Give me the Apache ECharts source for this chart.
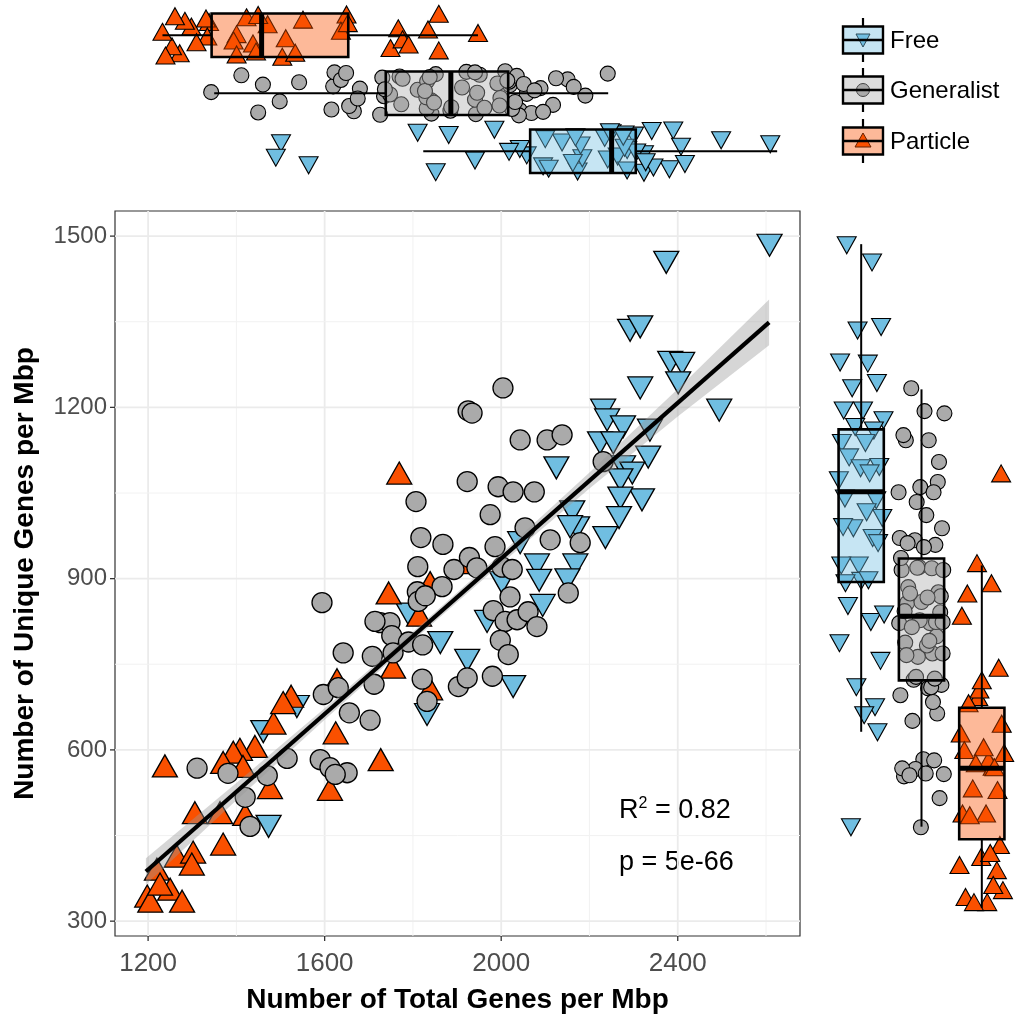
<!DOCTYPE html>
<html>
<head>
<meta charset="utf-8">
<script src="https://cdn.jsdelivr.net/npm/echarts@6/dist/echarts.min.js"></script>
<style>
  html, body { margin: 0; padding: 0; background: #ffffff; }
  #chart { width: 1018px; height: 1019px; }
</style>
</head>
<body>
<div id="chart"></div>
<script>
// ---- data: [total genes per Mbp, unique genes per Mbp] per lifestyle ----
const groupNames = ['Free', 'Generalist', 'Particle'];

const freePts = [
  [2608,1484],[2374,1454],[2292,1335],[2315,1341],[2383,1279],[2410,1277],[2401,1243],[2315,1234],[2494,1195],[2231,1195],
  [2240,1178],[2276,1166],[2337,1160],[2224,1138],[2254,1138],[2333,1113],[2276,1096],[2125,1094],[2297,1085],[2270,1073],
  [2319,1038],[2270,1041],[2161,1017],[2267,1007],[2172,989],[2236,972],[2081,924],[2168,924],[2043,963],[2086,897],
  [2094,853],[1968,825],[1923,757],[2027,711],[1862,788],[1537,676],[1473,466],[1832,662],[1790,838],[2002,893],
  [2150,898],[2156,991],[1461,632]
];

const generalistPts = [
  [1594,858],[1642,770],[1708,764],[1712,715],[1597,697],[1631,709],[1656,665],[1703,652],[1515,585],[1470,555],
  [1381,559],[1311,568],[1590,583],[1612,569],[1651,560],[1624,557],[1420,517],[1431,466],[1726,823],[1748,823],
  [1752,800],[1790,789],[1822,784],[1755,770],[1821,724],[1832,685],[1811,921],[1893,916],[1810,877],[1812,860],
  [1866,886],[1903,711],[1828,870],[1807,1035],[1818,972],[1868,960],[2004,1234],[1925,1194],[1934,1190],[2043,1143],
  [2104,1143],[2138,1152],[1923,1070],[1993,1061],[2027,1052],[2075,1052],[1975,1012],[2054,989],[2111,968],[2179,963],
  [2231,1105],[1986,956],[1928,937],[1945,919],[2002,920],[2025,916],[2152,875],[2020,868],[1982,844],[2009,825],
  [2036,828],[2061,842],[2081,816],[1998,792],[2016,767],[1923,726],[1980,729],[1714,825]
];

const particlePts = [
  [1745,875],[1238,572],[1524,694],[1484,647],[1625,630],[1727,583],[1612,531],[1476,534],[1442,606],[1408,601],
  [1393,596],[1370,578],[1415,571],[1306,490],[1363,490],[1420,487],[1370,435],[1265,414],[1302,421],[1299,400],
  [1220,391],[1198,344],[1205,335],[1250,356],[1277,335],[1227,365],[1839,707],[1814,836],[1755,745],[1628,723],
  [1506,683],[1839,893],[1769,1085],[1930,928]
];

// box summaries [min, Q1, median, Q3, max] of total genes (top) and unique genes (right)
const freeBoxTotal       = [1803, 2051, 2240, 2296, 2624];
const generalistBoxTotal = [1318, 1716, 1867, 2000, 2232];
const particleBoxTotal   = [1198, 1312, 1428, 1629, 1930];
const freeBoxUnique       = [633, 895, 1053, 1162, 1486];
const generalistBoxUnique = [467, 723, 835, 936, 1232];
const particleBoxUnique   = [325, 445, 569, 675, 924];

// linear fit and its confidence band
const fitX = [1195, 2607];
const fitY = [387, 1349];
const bandX    = [1195, 1400, 1600, 1800, 2000, 2200, 2400, 2607];
const bandLow  = [364, 512, 653, 791, 926, 1058, 1184, 1309];
const bandHigh = [410, 542, 673, 807, 944, 1086, 1232, 1389];

const fitR2 = '0.82';
const fitP = '5e-66';

// axis ticks
const xTicks = [1200, 1600, 2000, 2400];
const xMinorTicks = [1400, 1800, 2200, 2600];
const yTicks = [300, 600, 900, 1200, 1500];
const yMinorTicks = [450, 750, 1050, 1350];

// jitter offsets (fraction of a category band) for the marginal strips
const jitterA = [0.12,-0.31,0.27,-0.05,0.36,-0.22,0.08,-0.37,0.19,-0.14,
  0.31,0.02,-0.28,0.23,-0.09,0.35,-0.33,0.15,-0.02,0.29,
  -0.19,0.06,-0.35,0.25,-0.12,0.33,-0.26,0.1,-0.07,0.21,
  -0.3,0.37,-0.16,0.04,0.28,-0.24,0.14,-0.36,0.32,-0.01,
  -0.2,0.24,-0.11,0.38,-0.29,0.09,0.17,-0.34,0.26,-0.04,
  0.34,-0.18,0.01,-0.25,0.2,-0.38,0.11,0.3,-0.08,-0.27,
  0.16,0.05,-0.32,0.22,-0.15,0.36,-0.21,0.07];
const jitterB = [-0.24,0.18,-0.06,0.33,-0.35,0.11,0.26,-0.15,0.03,-0.29,
  0.37,-0.1,0.21,-0.32,0.07,-0.2,0.3,-0.01,0.14,-0.37,
  0.25,-0.27,0.09,0.35,-0.13,0.19,-0.04,-0.33,0.28,0.0,
  -0.22,0.16,0.32,-0.08,-0.36,0.23,-0.17,0.05,0.38,-0.26,
  0.12,-0.3,0.27,-0.02,0.2,-0.38,0.08,0.34,-0.11,-0.23,
  0.29,0.04,-0.34,0.17,-0.07,0.36,-0.19,0.1,-0.28,0.24,
  -0.03,0.31,-0.16,0.13,-0.25,0.22,-0.09,0.35];

// ---- styling ----
const FONT = '"Liberation Sans", Arial, Helvetica, sans-serif';
const freeColor = '#70BEE1';
const generalistColor = '#AAAAAA';
const particleColor = '#FA5000';
const boxFills = ['rgba(112,190,225,0.4)', 'rgba(170,170,170,0.4)', 'rgba(250,80,0,0.4)'];

const xRange = [1125, 2677];
const yRange = [274, 1544];

const chart = echarts.init(document.getElementById('chart'), null, { renderer: 'canvas' });

function hiddenAxis(extra) {
  return Object.assign({
    type: 'value',
    axisLine: { show: false }, axisTick: { show: false },
    axisLabel: { show: false }, splitLine: { show: false }
  }, extra);
}

// box + whiskers, horizontal (top strip)
function boxTop(params, api) {
  const pos = api.value(0);
  const pMin = api.coord([api.value(1), pos]);
  const pQ1 = api.coord([api.value(2), pos]);
  const pMed = api.coord([api.value(3), pos]);
  const pQ3 = api.coord([api.value(4), pos]);
  const pMax = api.coord([api.value(5), pos]);
  const half = api.size([0, 0.75])[1] / 2;
  const y = pMed[1];
  return {
    type: 'group',
    children: [
      { type: 'line', shape: { x1: pMin[0], y1: y, x2: pQ1[0], y2: y }, style: { stroke: '#000', lineWidth: 2 } },
      { type: 'line', shape: { x1: pQ3[0], y1: y, x2: pMax[0], y2: y }, style: { stroke: '#000', lineWidth: 2 } },
      { type: 'rect', shape: { x: pQ1[0], y: y - half, width: pQ3[0] - pQ1[0], height: 2 * half },
        style: { fill: boxFills[params.dataIndex], stroke: '#000', lineWidth: 2.6 } },
      { type: 'line', shape: { x1: pMed[0], y1: y - half, x2: pMed[0], y2: y + half }, style: { stroke: '#000', lineWidth: 5 } }
    ]
  };
}

// box + whiskers, vertical (right strip)
function boxRight(params, api) {
  const pos = api.value(0);
  const pMin = api.coord([pos, api.value(1)]);
  const pQ1 = api.coord([pos, api.value(2)]);
  const pMed = api.coord([pos, api.value(3)]);
  const pQ3 = api.coord([pos, api.value(4)]);
  const pMax = api.coord([pos, api.value(5)]);
  const half = api.size([0.75, 0])[0] / 2;
  const x = pMed[0];
  return {
    type: 'group',
    children: [
      { type: 'line', shape: { x1: x, y1: pMin[1], x2: x, y2: pQ1[1] }, style: { stroke: '#000', lineWidth: 2 } },
      { type: 'line', shape: { x1: x, y1: pQ3[1], x2: x, y2: pMax[1] }, style: { stroke: '#000', lineWidth: 2 } },
      { type: 'rect', shape: { x: x - half, y: pQ3[1], width: 2 * half, height: pQ1[1] - pQ3[1] },
        style: { fill: boxFills[params.dataIndex], stroke: '#000', lineWidth: 2.6 } },
      { type: 'line', shape: { x1: x - half, y1: pMed[1], x2: x + half, y2: pMed[1] }, style: { stroke: '#000', lineWidth: 5 } }
    ]
  };
}

function bandItem(params, api) {
  const pts = [];
  for (let i = 0; i < bandX.length; i++) pts.push(api.coord([bandX[i], bandHigh[i]]));
  for (let i = bandX.length - 1; i >= 0; i--) pts.push(api.coord([bandX[i], bandLow[i]]));
  return { type: 'polygon', shape: { points: pts }, style: { fill: 'rgba(153,153,153,0.4)' } };
}

// panel grid lines: [value, isMajor]
function vGridItem(params, api) {
  const v = api.value(0), major = api.value(1) === 1;
  const a = api.coord([v, yRange[0]]), b = api.coord([v, yRange[1]]);
  return { type: 'line', shape: { x1: a[0], y1: a[1], x2: b[0], y2: b[1] },
    style: { stroke: major ? '#EBEBEB' : '#F2F2F2', lineWidth: major ? 1.8 : 1 } };
}
function hGridItem(params, api) {
  const v = api.value(0), major = api.value(1) === 1;
  const a = api.coord([xRange[0], v]), b = api.coord([xRange[1], v]);
  return { type: 'line', shape: { x1: a[0], y1: a[1], x2: b[0], y2: b[1] },
    style: { stroke: major ? '#EBEBEB' : '#F2F2F2', lineWidth: major ? 1.8 : 1 } };
}
// outward tick marks on the panel edges
function xTickItem(params, api) {
  const a = api.coord([api.value(0), yRange[0]]);
  return { type: 'line', shape: { x1: a[0], y1: a[1], x2: a[0], y2: a[1] + 5 }, style: { stroke: '#333333', lineWidth: 1.3 } };
}
function yTickItem(params, api) {
  const a = api.coord([xRange[0], api.value(0)]);
  return { type: 'line', shape: { x1: a[0] - 5, y1: a[1], x2: a[0], y2: a[1] }, style: { stroke: '#333333', lineWidth: 1.3 } };
}

const groupSets = [
  { pts: freePts, color: freeColor, symbol: 'triangle', rotate: 180 },
  { pts: generalistPts, color: generalistColor, symbol: 'circle', rotate: 0 },
  { pts: particlePts, color: particleColor, symbol: 'triangle', rotate: 0 }
];

const series = [];

series.push({
  type: 'custom', xAxisIndex: 0, yAxisIndex: 0, z: 0, silent: true,
  encode: { x: 0 },
  data: xMinorTicks.map(function (v) { return [v, 0]; }).concat(xTicks.map(function (v) { return [v, 1]; })),
  renderItem: vGridItem
});
series.push({
  type: 'custom', xAxisIndex: 0, yAxisIndex: 0, z: 0, silent: true,
  encode: { y: 0 },
  data: yMinorTicks.map(function (v) { return [v, 0]; }).concat(yTicks.map(function (v) { return [v, 1]; })),
  renderItem: hGridItem
});
series.push({
  type: 'custom', xAxisIndex: 0, yAxisIndex: 0, z: 6, silent: true, clip: false,
  encode: { x: 0 }, data: xTicks.map(function (v) { return [v]; }), renderItem: xTickItem
});
series.push({
  type: 'custom', xAxisIndex: 0, yAxisIndex: 0, z: 6, silent: true, clip: false,
  encode: { y: 0 }, data: yTicks.map(function (v) { return [v]; }), renderItem: yTickItem
});

// main scatter
[0, 2, 1].forEach(function (g) {
  const s = groupSets[g];
  series.push({
    type: 'scatter', name: groupNames[g], xAxisIndex: 0, yAxisIndex: 0,
    data: s.pts, symbol: s.symbol, symbolRotate: s.rotate,
    symbolSize: s.symbol === 'circle' ? 20 : [25, 22],
    itemStyle: { color: s.color, borderColor: '#000', borderWidth: 1.3, opacity: 1 },
    z: 2, silent: true
  });
});

series.push({
  type: 'custom', xAxisIndex: 0, yAxisIndex: 0,
  data: [[bandX[0], bandLow[0]]], renderItem: bandItem, z: 3, silent: true
});
series.push({
  type: 'line', xAxisIndex: 0, yAxisIndex: 0,
  data: [[fitX[0], fitY[0]], [fitX[1], fitY[1]]],
  showSymbol: false, symbol: 'none',
  lineStyle: { color: '#000', width: 4.2 }, z: 4, silent: true
});

// marginal strips
[0, 2, 1].forEach(function (g) {
  const s = groupSets[g];
  const mSize = s.symbol === 'circle' ? 15 : [19, 17];
  series.push({
    type: 'scatter', xAxisIndex: 1, yAxisIndex: 1,
    data: s.pts.map(function (p, i) { return [p[0], g + 1 + jitterA[i]]; }),
    symbol: s.symbol, symbolRotate: s.rotate, symbolSize: mSize,
    itemStyle: { color: s.color, borderColor: '#000', borderWidth: 1.1, opacity: 1 },
    z: 2, silent: true
  });
  series.push({
    type: 'scatter', xAxisIndex: 2, yAxisIndex: 2,
    data: s.pts.map(function (p, i) { return [g + 1 + jitterB[i], p[1]]; }),
    symbol: s.symbol, symbolRotate: s.rotate, symbolSize: mSize,
    itemStyle: { color: s.color, borderColor: '#000', borderWidth: 1.1, opacity: 1 },
    z: 2, silent: true
  });
});

series.push({
  type: 'custom', xAxisIndex: 1, yAxisIndex: 1,
  encode: { x: [1, 2, 3, 4, 5], y: 0 },
  data: [[1].concat(freeBoxTotal), [2].concat(generalistBoxTotal), [3].concat(particleBoxTotal)],
  renderItem: boxTop, z: 5, silent: true
});
series.push({
  type: 'custom', xAxisIndex: 2, yAxisIndex: 2,
  encode: { x: 0, y: [1, 2, 3, 4, 5] },
  data: [[1].concat(freeBoxUnique), [2].concat(generalistBoxUnique), [3].concat(particleBoxUnique)],
  renderItem: boxRight, z: 5, silent: true
});

// legend keys drawn as small box glyphs
const legendY = [40, 90, 141];
const legendEls = [];
legendY.forEach(function (c, g) {
  const kx = 863;
  legendEls.push({ type: 'line', shape: { x1: kx, y1: c - 22, x2: kx, y2: c - 13 }, style: { stroke: '#000', lineWidth: 2.2 } });
  legendEls.push({ type: 'line', shape: { x1: kx, y1: c + 13, x2: kx, y2: c + 22 }, style: { stroke: '#000', lineWidth: 2.2 } });
  if (g === 0) {
    legendEls.push({ type: 'polygon', shape: { points: [[856, c - 6], [870, c - 6], [863, c + 7]] }, style: { fill: freeColor, stroke: '#000', lineWidth: 1 } });
  } else if (g === 1) {
    legendEls.push({ type: 'circle', shape: { cx: kx, cy: c, r: 6.5 }, style: { fill: generalistColor, stroke: '#000', lineWidth: 1 } });
  } else {
    legendEls.push({ type: 'polygon', shape: { points: [[855, c + 6], [871, c + 6], [863, c - 8]] }, style: { fill: particleColor, stroke: '#000', lineWidth: 1 } });
  }
  legendEls.push({ type: 'rect', shape: { x: 843, y: c - 13.5, width: 40, height: 27 }, style: { fill: boxFills[g], stroke: '#000', lineWidth: 2.4 } });
  legendEls.push({ type: 'line', shape: { x1: 843, y1: c, x2: 883, y2: c }, style: { stroke: '#000', lineWidth: 2.4 } });
  legendEls.push({ type: 'text', x: 890, y: c + 1, style: { text: groupNames[g], font: '24px ' + FONT, fill: '#000', textAlign: 'left', textVerticalAlign: 'middle' } });
});

legendEls.push({
  type: 'text', x: 619, y: 811,
  style: {
    text: '{b|R}{s|2}{b| = ' + fitR2 + '}',
    textAlign: 'left', textVerticalAlign: 'middle',
    rich: {
      b: { fontSize: 27, fontFamily: FONT, fill: '#000', lineHeight: 30 },
      s: { fontSize: 16, fontFamily: FONT, fill: '#000', verticalAlign: 'top', lineHeight: 30 }
    }
  }
});
legendEls.push({
  type: 'text', x: 619, y: 863,
  style: { text: 'p = ' + fitP, font: '27px ' + FONT, fill: '#000', textAlign: 'left', textVerticalAlign: 'middle' }
});

function plainNumber(v) { return String(v); }

const option = {
  animation: false,
  backgroundColor: '#ffffff',
  textStyle: { fontFamily: FONT },
  grid: [
    { left: 115, top: 211, width: 685, height: 726, show: true, borderColor: '#333333', borderWidth: 1.2, backgroundColor: 'transparent' },
    { left: 131, top: 0.5, width: 669, height: 185.6 },
    { left: 825, top: 211, width: 203.5, height: 726 }
  ],
  xAxis: [
    {
      type: 'value', gridIndex: 0, min: xRange[0], max: xRange[1],
      axisLine: { show: false }, axisTick: { show: false }, splitLine: { show: false },
      axisLabel: { customValues: xTicks, formatter: plainNumber, fontSize: 26, color: '#4D4D4D', margin: 15, fontFamily: FONT },
      name: 'Number of Total Genes per Mbp', nameLocation: 'middle', nameGap: 50,
      nameTextStyle: { fontSize: 28, fontWeight: 'bold', color: '#000', fontFamily: FONT }
    },
    hiddenAxis({ gridIndex: 1, min: xRange[0], max: xRange[1] }),
    hiddenAxis({ gridIndex: 2, min: 0.4, max: 3.6 })
  ],
  yAxis: [
    {
      type: 'value', gridIndex: 0, min: yRange[0], max: yRange[1],
      axisLine: { show: false }, axisTick: { show: false }, splitLine: { show: false },
      axisLabel: { customValues: yTicks, formatter: plainNumber, fontSize: 24, color: '#4D4D4D', margin: 8, fontFamily: FONT },
      name: 'Number of Unique Genes per Mbp', nameLocation: 'middle', nameGap: 76,
      nameTextStyle: { fontSize: 28, fontWeight: 'bold', color: '#000', fontFamily: FONT }
    },
    hiddenAxis({ gridIndex: 1, min: 0.4, max: 3.6 }),
    hiddenAxis({ gridIndex: 2, min: yRange[0], max: yRange[1] })
  ],
  graphic: { elements: legendEls },
  series: series
};

chart.setOption(option);
</script>
</body>
</html>
